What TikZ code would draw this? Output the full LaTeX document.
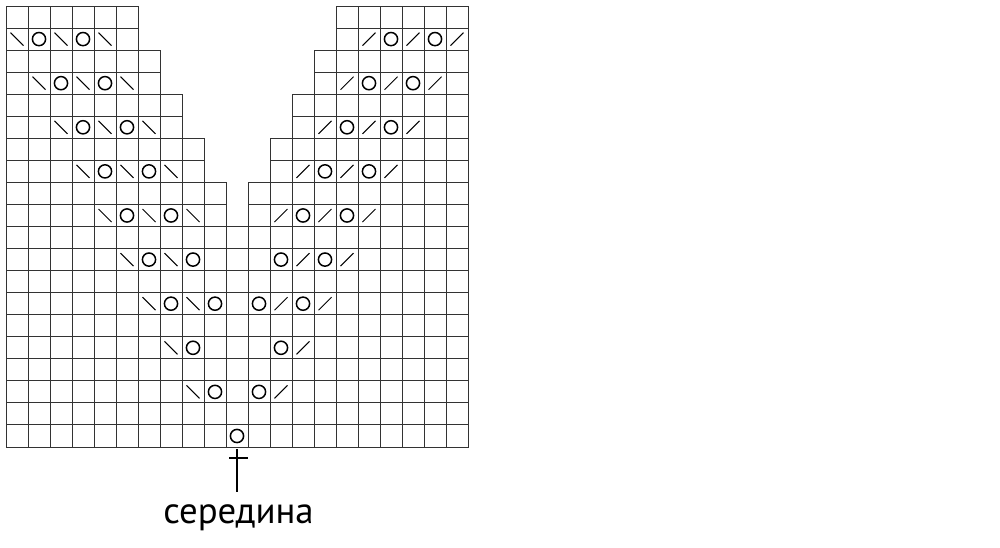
\documentclass[tikz,border=0pt]{standalone}
\usepackage{fontspec}
\setmainfont{PT Sans}
\newcommand\kO[2]{\draw[yarnover] ({22*#1-5},{22.05*#2-5.025}) circle[radius=6.6];}
\newcommand\kL[2]{\draw[decline] ({22*#1-11.5},{22.05*#2-11.5}) -- ++(13,13);}
\newcommand\kR[2]{\draw[decline] ({22*#1-11.5},{22.05*#2+1.5}) -- ++(13,-13);}
\begin{document}
\begin{tikzpicture}[x=1pt,y=-1pt,
  gridline/.style={draw=black!80, line width=1pt},
  yarnover/.style={draw=black, line width=1.5pt},
  decline/.style={draw=black, line width=1pt},
  markline/.style={draw=black, line width=1.7pt}]
\useasboundingbox (0,0) rectangle (1000,547);
\fill[white] (0,0) rectangle (1000,547);
% grid: stepped upper part
\foreach \t in {1,...,10}{
  \pgfmathtruncatemacro\lc{6+floor((\t-1)/2)}
  \pgfmathtruncatemacro\rc{16-floor((\t-1)/2)}
  \foreach \c in {1,...,\lc}{\draw[gridline] ({6+22*(\c-1)},{6+22.05*(\t-1)}) rectangle ++(22,22.05);}
  \foreach \c in {\rc,...,21}{\draw[gridline] ({6+22*(\c-1)},{6+22.05*(\t-1)}) rectangle ++(22,22.05);}
}
% grid: full lower part
\foreach \t in {11,...,20}{
  \foreach \c in {1,...,21}{\draw[gridline] ({6+22*(\c-1)},{6+22.05*(\t-1)}) rectangle ++(22,22.05);}
}
% upper eyelet rows
\foreach \k in {1,...,5}{
  \pgfmathtruncatemacro\t{2*\k}
  \pgfmathtruncatemacro\a{\k}
  \pgfmathtruncatemacro\b{\k+1}
  \pgfmathtruncatemacro\cc{\k+2}
  \pgfmathtruncatemacro\d{\k+3}
  \pgfmathtruncatemacro\e{\k+4}
  \kL{\a}{\t}\kO{\b}{\t}\kL{\cc}{\t}\kO{\d}{\t}\kL{\e}{\t}
  \pgfmathtruncatemacro\ra{18-\k}
  \pgfmathtruncatemacro\rb{19-\k}
  \pgfmathtruncatemacro\rcc{20-\k}
  \pgfmathtruncatemacro\rd{21-\k}
  \pgfmathtruncatemacro\re{22-\k}
  \kR{\ra}{\t}\kO{\rb}{\t}\kR{\rcc}{\t}\kO{\rd}{\t}\kR{\re}{\t}
}
% lower rows
\kL{6}{12}\kO{7}{12}\kL{8}{12}\kO{9}{12}
\kO{13}{12}\kR{14}{12}\kO{15}{12}\kR{16}{12}
\kL{7}{14}\kO{8}{14}\kL{9}{14}\kO{10}{14}
\kO{12}{14}\kR{13}{14}\kO{14}{14}\kR{15}{14}
\kL{8}{16}\kO{9}{16}
\kO{13}{16}\kR{14}{16}
\kL{9}{18}\kO{10}{18}
\kO{12}{18}\kR{13}{18}
\kO{11}{20}
% centre mark and label
\node[font=\fontsize{36.8}{40}\selectfont, anchor=base, inner sep=0pt] (label) at (238.5,523) {середина};
\coordinate (marktop) at (237,449);
\coordinate (markbot) at (237,492);
\coordinate (barl) at (229,458);
\coordinate (barr) at (247.5,458);
\draw[markline] (marktop) -- (markbot);
\draw[markline] (barl) -- (barr);
\end{tikzpicture}
\end{document}
